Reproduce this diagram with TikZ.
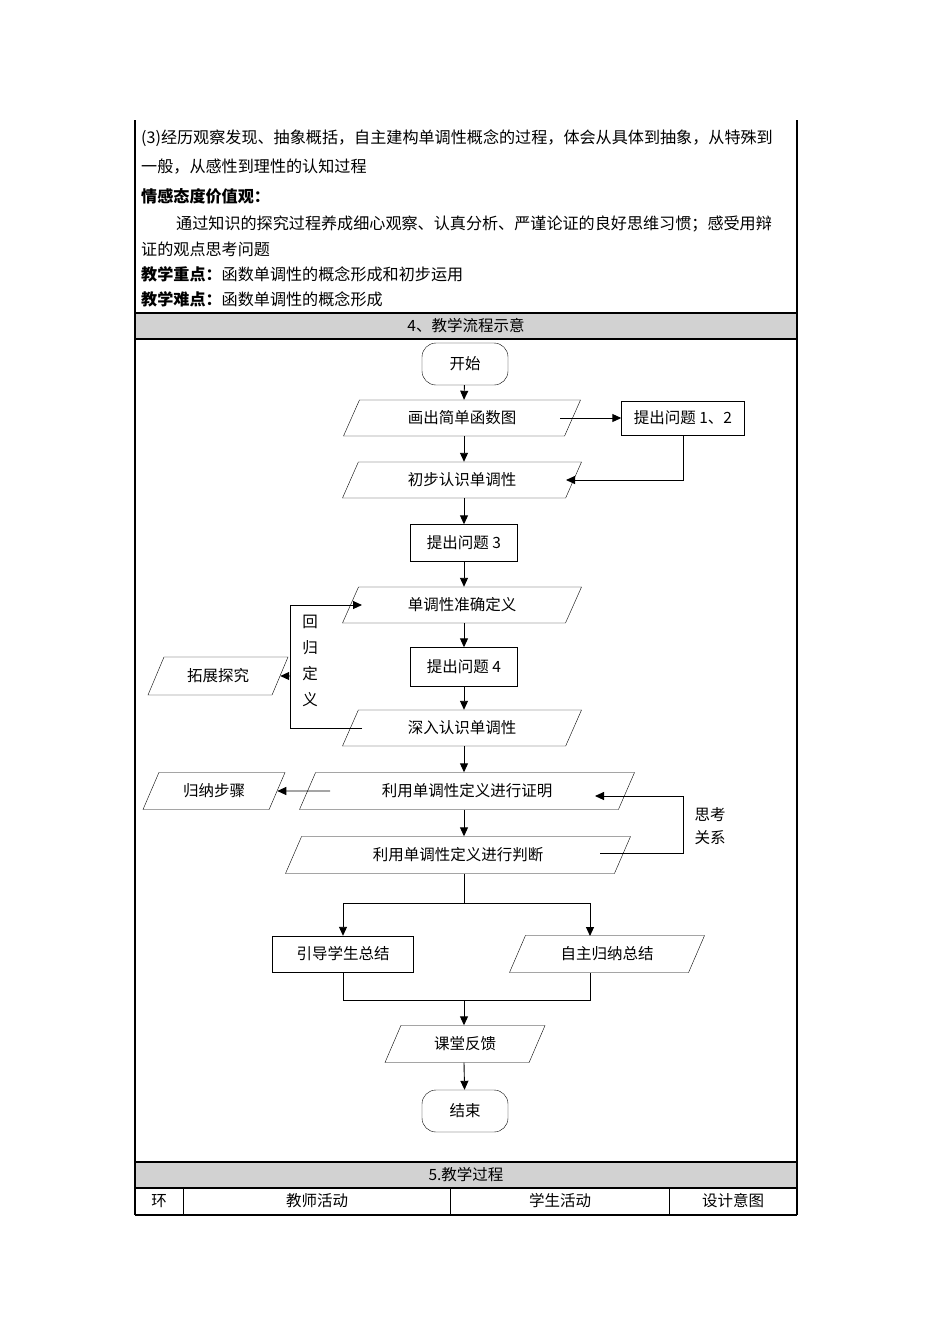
\documentclass[tikz,border=0pt]{standalone}
\usepackage{fontspec}
\setmainfont{Noto Sans CJK SC}
\usetikzlibrary{shapes.geometric,arrows.meta}
\begin{document}
\begin{tikzpicture}[x=1pt,y=-1pt,
  txt/.style={anchor=west,inner sep=0pt,font=\fontsize{16.1}{17}\selectfont},
  fl/.style={font=\fontsize{15.5}{16}\selectfont,inner sep=0pt},
  para/.style={fl,draw,trapezium,trapezium left angle=42,trapezium right angle=138,trapezium stretches body=true,minimum height=36pt},
  box/.style={fl,draw,rectangle,minimum height=37pt},
  term/.style={fl,draw,rounded corners=14pt,minimum width=86pt,minimum height=42pt},
  arr/.style={-{Triangle[length=9pt,width=8pt]}},
  ln/.style={line width=0.9pt}]
\useasboundingbox (0,0) rectangle (950,1344);
% table frame
\fill[gray!35] (135,313) rectangle (797,339);
\fill[gray!35] (135,1162) rectangle (797,1188);
\draw[line width=1.2pt] (135,120) -- (135,1215) (797,120) -- (797,1215);
\draw[line width=1.2pt] (135,313) -- (797,313) (135,339) -- (797,339) (135,1162) -- (797,1162) (135,1188) -- (797,1188) (135,1215) -- (797,1215);
\draw[line width=0.9pt] (183,1188) -- (183,1215) (450,1188) -- (450,1215) (669,1188) -- (669,1215);
\node[txt] (t1) at (141,138) {(3)经历观察发现、抽象概括，自主建构单调性概念的过程，体会从具体到抽象，从特殊到};
\node[txt] (t2) at (141,167) {一般，从感性到理性的认知过程};
\node[txt,font=\fontsize{16.1}{17}\selectfont\bfseries] (t3) at (141,196) {情感态度价值观：};
\node[txt] (t4) at (176,224) {通过知识的探究过程养成细心观察、认真分析、严谨论证的良好思维习惯；感受用辩};
\node[txt] (t5) at (141,249) {证的观点思考问题};
\node[txt] (t6) at (141,274) {\textbf{教学重点：}函数单调性的概念形成和初步运用};
\node[txt] (t7) at (141,299) {\textbf{教学难点：}函数单调性的概念形成};
\node[fl] (h1) at (466,326) {4、教学流程示意};
\node[fl] (h2) at (466,1175) {5.教学过程};
\node[fl] (c1) at (159,1201) {环};
\node[fl] (c2) at (317,1201) {教师活动};
\node[fl] (c3) at (560,1201) {学生活动};
\node[fl] (c4) at (733,1201) {设计意图};
% flowchart
\node[term] (start) at (465,364) {开始};
\node[para,minimum width=237pt] (p1) at (462,418) {画出简单函数图};
\node[box,minimum width=123pt,minimum height=34pt] (q12) at (683,418) {提出问题 1、2};
\node[para,minimum width=239pt] (p2) at (462,480) {初步认识单调性};
\node[box,minimum width=107pt] (q3) at (464,543) {提出问题 3};
\node[para,minimum width=239pt] (p3) at (462,605) {单调性准确定义};
\node[box,minimum width=107pt,minimum height=39pt] (q4) at (464,667) {提出问题 4};
\node[para,minimum width=239pt] (p4) at (462,728) {深入认识单调性};
\node[para,minimum width=140pt,minimum height=38pt] (ext) at (218,676) {拓展探究};
\node[para,minimum width=335pt,minimum height=37pt] (p5) at (467,791) {利用单调性定义进行证明};
\node[para,minimum width=142pt,minimum height=37pt] (ind) at (214,791) {归纳步骤};
\node[para,minimum width=345pt,minimum height=37pt] (p6) at (458,855) {利用单调性定义进行判断};
\node[box,minimum width=141pt,minimum height=36pt] (g1) at (343,954) {引导学生总结};
\node[para,minimum width=195pt,minimum height=37pt] (g2) at (607,954) {自主归纳总结};
\node[para,minimum width=160pt,minimum height=37pt] (fb) at (465,1044) {课堂反馈};
\node[term] (end) at (465,1111) {结束};
\node[fl] (lb1) at (310,622) {回};
\node[fl] (lb2) at (310,648) {归};
\node[fl] (lb3) at (310,674) {定};
\node[fl] (lb4) at (310,700) {义};
\node[fl] (lb5) at (710,815) {思考};
\node[fl] (lb6) at (710,838) {关系};
\coordinate (a1) at (560,418);
\coordinate (a2) at (566,480);
\coordinate (l1) at (362,728);
\coordinate (l2) at (362,605);
\coordinate (r1) at (600,853);
\coordinate (r2) at (595,796);
\coordinate (b1) at (330,791);
\coordinate (s1) at (290,676);
\coordinate (m) at (464,0);
\begin{scope}[ln]
\draw[arr] (start) -- (p1.north -| m);
\draw[arr] (a1) -- (q12);
\draw[arr] (q12.south) |- (a2);
\draw[arr] (p1.south -| m) -- (p2.north -| m);
\draw[arr] (p2.south -| m) -- (q3);
\draw[arr] (q3) -- (p3.north -| m);
\draw[arr] (p3.south -| m) -- (q4);
\draw[arr] (q4) -- (p4.north -| m);
\draw[arr] (l1) -- (290,728) -- (290,605) -- (l2);
\draw[arr] (s1) -- (ext.east);
\draw[arr] (p4.south -| m) -- (p5.north -| m);
\draw[arr] (b1) -- (ind.east);
\draw[arr] (p5.south -| m) -- (p6.north -| m);
\draw[arr] (r1) -- (683,853) -- (683,796) -- (r2);
\draw (p6.south -| m) -- (464,903);
\draw (343,903) -- (590,903);
\draw[arr] (343,903) -- (g1.north);
\draw[arr] (590,903) -- (590,936);
\draw (g1.south) -- (343,1000) -- (590,1000) -- (590,973);
\draw[arr] (464,1000) -- (fb.north -| m);
\draw[arr] (fb.south -| m) -- (end);
\end{scope}
\end{tikzpicture}
\end{document}
